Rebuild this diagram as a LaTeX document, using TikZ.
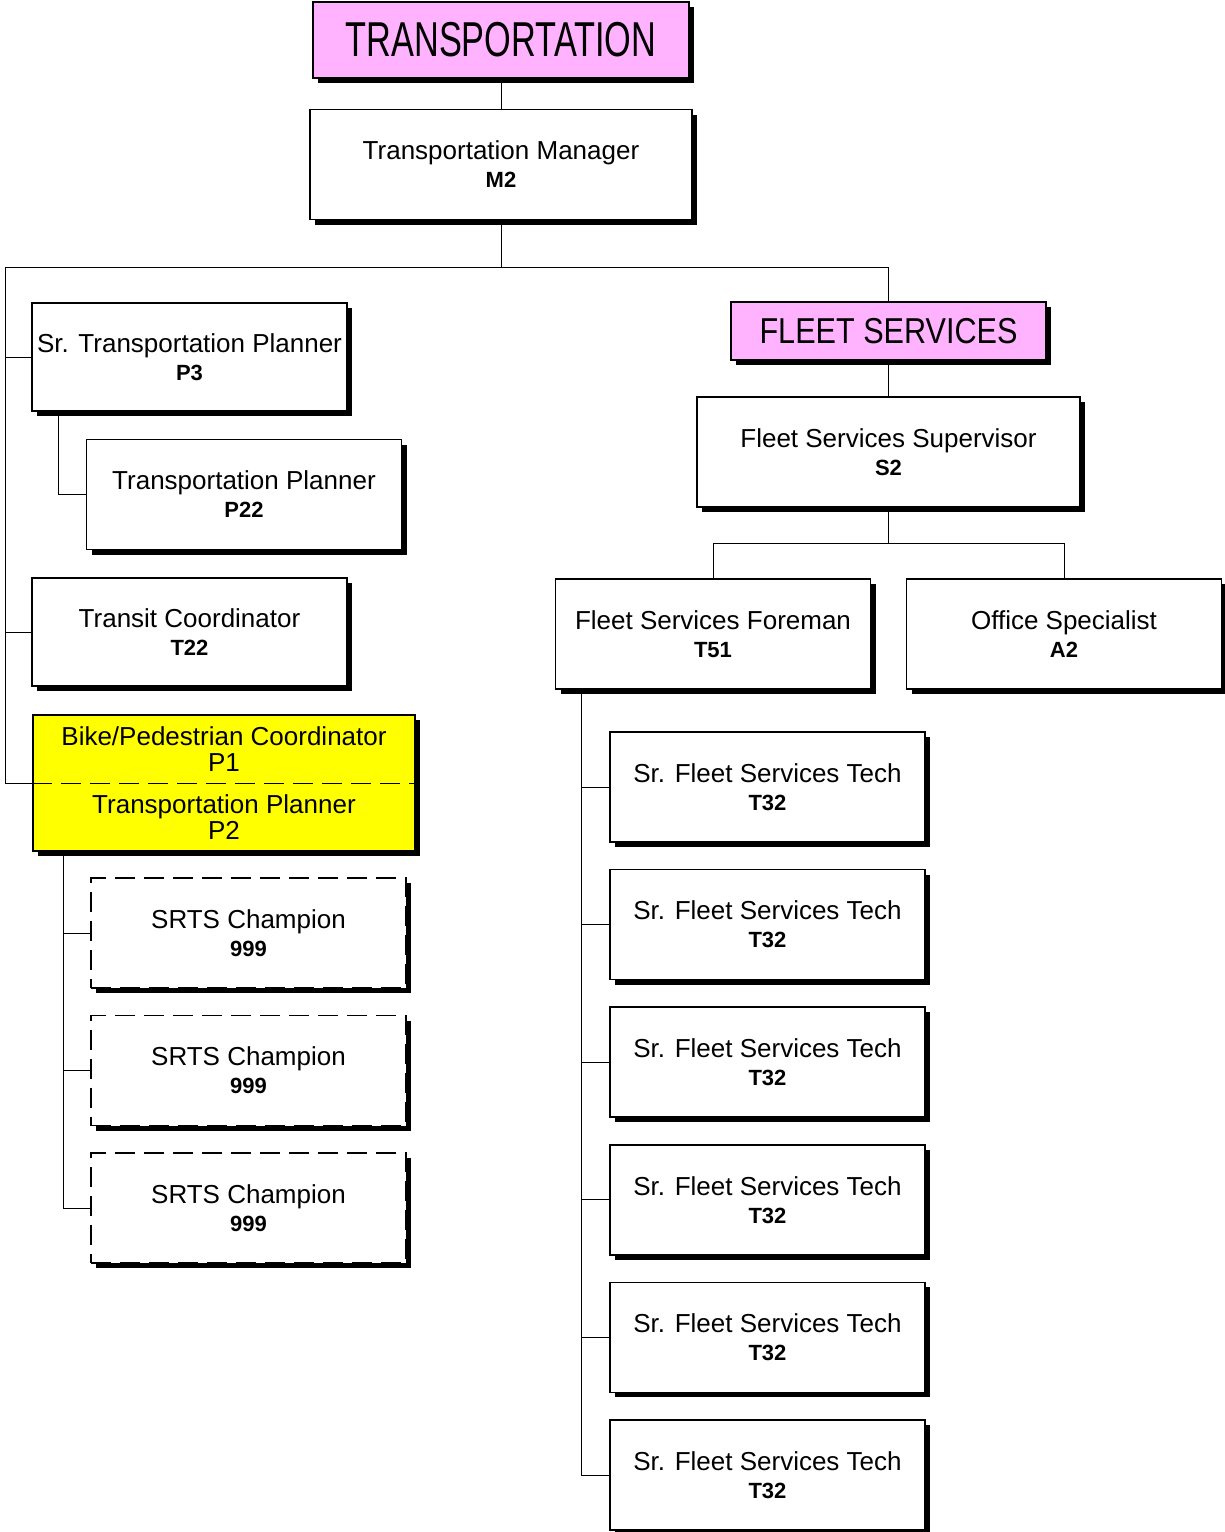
\documentclass[tikz,border=0pt]{standalone}
\usepackage{fontspec}
\setmainfont{Liberation Sans}
\usepackage{graphicx}
\usetikzlibrary{positioning, calc, shadows}
\definecolor{titlepink}{HTML}{FFB3FF}
\definecolor{vacantyellow}{HTML}{FFFF00}
\newcommand{\poscode}[1]{{\fontsize{22}{28}\selectfont\bfseries #1}}

\begin{document}
\begin{tikzpicture}[
    x=1pt, y=-1pt,
    font=\fontsize{26}{28}\selectfont,
    boxshade/.style={drop shadow={shadow xshift=5pt, shadow yshift=-5pt, fill=black, opacity=1}},
    posbox/.style={draw=black, line width=1.6pt, fill=white, boxshade, align=center,
                   inner sep=0pt, minimum width=315pt, minimum height=110pt},
    widebox/.style={posbox, minimum width=382pt},
    titlebox/.style={posbox, fill=titlepink},
    vacantbox/.style={posbox, dash pattern=on 20pt off 9pt},
    conn/.style={draw=black, line width=1pt}
]
  \useasboundingbox (0,0) rectangle (1225,1532);

  % Top: Department & Manager
  \node[titlebox, minimum width=376pt, minimum height=76pt] (dept) at (501,40)
    {\fontsize{49}{50}\selectfont\scalebox{0.7}[1]{TRANSPORTATION}};
  \node[widebox] (mgr) at (501,164.5) {Transportation Manager\\\poscode{M2}};

  % Left branch: Planning
  \node[posbox, minimum height=108pt] (srplan) at (189.5,357) {Sr. Transportation Planner\\\poscode{P3}};
  \node[posbox] (plan) at (244,494.5) {Transportation Planner\\\poscode{P22}};
  \node[posbox, minimum height=108pt] (transit) at (189.5,632) {Transit Coordinator\\\poscode{T22}};
  \node[widebox, fill=vacantyellow, minimum height=136pt, font=\fontsize{26}{26.5}\selectfont] (bike) at (224,783)
    {Bike/Pedestrian Coordinator\\P1\\[15pt]Transportation Planner\\P2};
  \node[vacantbox] (srts1) at (248.5,933) {SRTS Champion\\\poscode{999}};
  \node[vacantbox, below=26pt of srts1] (srts2) {SRTS Champion\\\poscode{999}};
  \node[vacantbox, below=26pt of srts2] (srts3) {SRTS Champion\\\poscode{999}};

  % Right branch: Fleet
  \node[titlebox, minimum height=58pt] (fleet) at (888.5,331)
    {\fontsize{36}{40}\selectfont\scalebox{0.85}[1]{FLEET SERVICES}};
  \node[widebox, minimum width=383pt] (sup) at (888.5,452) {Fleet Services Supervisor\\\poscode{S2}};
  \node[posbox] (foreman) at (713,634) {Fleet Services Foreman\\\poscode{T51}};
  \node[posbox] (office) at (1064,634) {Office Specialist\\\poscode{A2}};
  \node[posbox] (tech1) at (767.5,787) {Sr. Fleet Services Tech\\\poscode{T32}};
  \node[posbox, below=26pt of tech1] (tech2) {Sr. Fleet Services Tech\\\poscode{T32}};
  \node[posbox, below=26pt of tech2] (tech3) {Sr. Fleet Services Tech\\\poscode{T32}};
  \node[posbox, below=26pt of tech3] (tech4) {Sr. Fleet Services Tech\\\poscode{T32}};
  \node[posbox, below=26pt of tech4] (tech5) {Sr. Fleet Services Tech\\\poscode{T32}};
  \node[posbox, below=26pt of tech5] (tech6) {Sr. Fleet Services Tech\\\poscode{T32}};

  % Reporting lines
  \coordinate (busL) at (5,267);
  \draw[conn] (dept) -- (mgr);
  \draw[conn] (mgr.south) -- (mgr.south |- busL);
  \draw[conn] (busL) -| (fleet.north);
  \foreach \n in {srplan,transit,bike} {
    \draw[conn] (busL) |- (\n.west);
  }
  \draw[conn] ($(srplan.south west)+(27,0)$) |- (plan.west);
  \draw[conn, dash pattern=on 20pt off 9pt] (bike.west) -- (bike.east);
  \foreach \n in {srts1,srts2,srts3} {
    \draw[conn] ($(bike.south west)+(31,0)$) |- (\n.west);
  }
  \draw[conn] (fleet) -- (sup);
  \draw[conn] (sup.south) -- ++(0,36) coordinate (fork);
  \draw[conn] (foreman.north) |- (fork) -| (office.north);
  \foreach \i in {1,...,6} {
    \draw[conn] ($(foreman.south west)+(27,0)$) |- (tech\i.west);
  }
\end{tikzpicture}
\end{document}
